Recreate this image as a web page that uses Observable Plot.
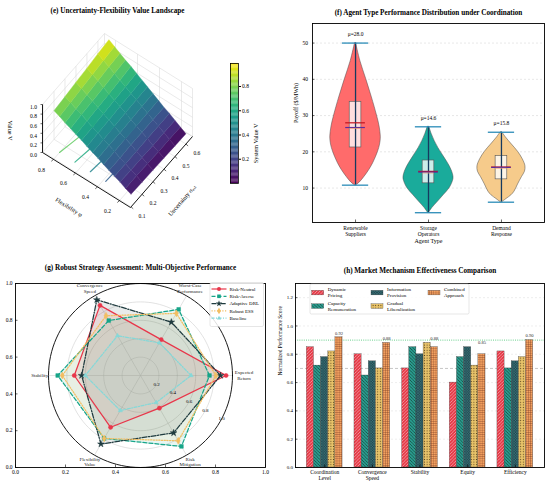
<!DOCTYPE html>
<html><head><meta charset="utf-8">
<script src="https://cdn.jsdelivr.net/npm/d3@7"></script>
<script src="https://cdn.jsdelivr.net/npm/@observablehq/plot@0.6"></script>
<style>
html,body{margin:0;padding:0;background:#fff;}
#fig{position:relative;width:550px;height:487px;overflow:hidden;background:#fff;}
#fig svg{position:absolute;}
</style></head><body>
<div id="fig">
<svg width="0" height="0" style="position:absolute;left:0;top:0">
<defs>
<pattern id="hatch0" patternUnits="userSpaceOnUse" width="3.2" height="3.2">
  <rect width="3.2" height="3.2" fill="#E63946"/>
  <path d="M-0.8,0.8 L0.8,-0.8 M0,3.2 L3.2,0 M2.4,4 L4,2.4" stroke="#f5b5bb" stroke-width="0.7"/>
</pattern>
<pattern id="hatch1" patternUnits="userSpaceOnUse" width="3.2" height="3.2">
  <rect width="3.2" height="3.2" fill="#2A9D8F"/>
  <path d="M-0.8,2.4 L0.8,4 M0,0 L3.2,3.2 M2.4,-0.8 L4,0.8" stroke="#133a35" stroke-width="0.7"/>
</pattern>
<pattern id="hatch2" patternUnits="userSpaceOnUse" width="2.6" height="2.6">
  <rect width="2.6" height="2.6" fill="#264653"/>
  <path d="M0,0 L2.6,2.6 M2.6,0 L0,2.6" stroke="#3f8f86" stroke-width="0.45"/>
</pattern>
<pattern id="hatch3" patternUnits="userSpaceOnUse" width="2.6" height="2.6">
  <rect width="2.6" height="2.6" fill="#E9C46A"/>
  <circle cx="1.3" cy="1.3" r="0.55" fill="#5a4420"/>
</pattern>
<pattern id="hatch4" patternUnits="userSpaceOnUse" width="2.2" height="2.2">
  <rect width="2.2" height="2.2" fill="#F4A261"/>
  <path d="M0,0 H2.2 M0,0 V2.2" stroke="#6b2d1a" stroke-width="0.55"/>
</pattern>
</defs></svg>
</div>
<script>
const SERIF = '"Liberation Serif","DejaVu Serif",serif';

// ================= (e) data =================
const titleE = "(e) Uncertainty-Flexibility Value Landscape";
const flexVals = [0.15,0.20,0.25,0.30,0.35,0.40,0.45,0.50,0.55,0.60,0.65,0.70,0.75,0.80,0.85];
const uncVals = [0.15,0.25,0.35,0.45,0.55,0.65];
const valueGrid = [
 [0.06,0.05,0.04,0.03,0.02,0.01],
 [0.11,0.11,0.10,0.09,0.09,0.08],
 [0.17,0.16,0.16,0.15,0.15,0.15],
 [0.22,0.22,0.22,0.22,0.22,0.22],
 [0.27,0.27,0.28,0.28,0.28,0.28],
 [0.32,0.33,0.34,0.34,0.35,0.35],
 [0.38,0.39,0.39,0.40,0.41,0.42],
 [0.43,0.44,0.45,0.47,0.48,0.49],
 [0.48,0.50,0.51,0.53,0.54,0.56],
 [0.54,0.55,0.57,0.59,0.61,0.63],
 [0.59,0.61,0.63,0.65,0.67,0.70],
 [0.64,0.67,0.69,0.71,0.74,0.76],
 [0.69,0.72,0.75,0.78,0.81,0.83],
 [0.75,0.78,0.81,0.84,0.87,0.90],
 [0.80,0.83,0.87,0.90,0.94,0.97]
];
const contourLevels = [0.3,0.45,0.6,0.75,0.9];
const flexTicks = [0.2,0.4,0.6,0.8];
const uncTicks = [0.1,0.2,0.3,0.4,0.5,0.6];
const valueTicks = [0.0,0.2,0.4,0.6,0.8,1.0];
const colorbarTicks = [0.2,0.4,0.6,0.8];
const flexLim = [0.1,0.9], uncLim = [0.095,0.66], valLim = [0,1];
const colorDomain = [0,0.99];

// ================= (f) data =================
const titleF = "(f) Agent Type Performance Distribution under Coordination";
const agentNames = ["Renewable\nSuppliers","Storage\nOperators","Demand\nResponse"];
const agentColors = ["#FF6B6B","#1AAB9B","#F6CB8B"];
const agentMean = [28.0,14.6,15.8];
const agentMedian = [26.7,14.4,15.7];
const agentQ1 = [21.2,11.3,12.4];
const agentQ3 = [33.8,17.6,18.8];
const agentMin = [10.8,3.2,6.1];
const agentMax = [50.0,26.9,25.4];
const renewableProfile = [[10.8,0.03],[11.5,0.16],[13,0.34],[15,0.54],[17,0.70],[20,0.88],[22,0.96],[24,0.99],[27,0.94],[30,0.84],[35,0.64],[40,0.42],[45,0.19],[50,0.02]];
const storageProfile = [[3.2,0.02],[4.5,0.15],[6,0.34],[8,0.59],[10,0.83],[12,0.96],[13,0.98],[15,0.90],[17,0.75],[19,0.57],[21,0.39],[23,0.24],[25,0.12],[26.9,0.03]];
const demandProfile = [[6.1,0.03],[7,0.20],[8,0.39],[9,0.51],[11,0.65],[13,0.80],[14.5,0.92],[16,0.94],[18,0.83],[20,0.65],[22,0.41],[24,0.17],[25.4,0.03]];
const payoffTicks = [10,20,30,40,50];

// ================= (g) data =================
const titleG = "(g) Robust Strategy Assessment: Multi-Objective Performance";
const radarAxes = ["Expected\nReturn","Worst-Case\nPerformance","Convergence\nSpeed","Stability","Flexibility\nValue","Risk\nMitigation"];
const strategyNames = ["Risk-Neutral","Risk-Averse","Adaptive DRL","Robust ESS","Baseline"];
const riskNeutral = [0.93,0.45,0.88,0.72,0.65,0.41];
const riskAverse  = [0.75,0.83,0.69,0.90,0.79,0.89];
const adaptiveDRL = [0.87,0.67,0.95,0.64,0.86,0.72];
const robustESS   = [0.82,0.78,0.75,0.85,0.79,0.82];
const baseline    = [0.55,0.41,0.50,0.60,0.44,0.34];
const radialTicks = [0.2,0.4,0.6,0.8,1.0];
const frameTicks = [0,0.2,0.4,0.6,0.8,1.0];

// ================= (h) data =================
const titleH = "(h) Market Mechanism Effectiveness Comparison";
const criteria = ["Coordination\nLevel","Convergence\nSpeed","Stability","Equity","Efficiency"];
const mechanisms = ["Dynamic\nPricing","Capacity\nRemuneration","Information\nProvision","Gradual\nLiberalization","Combined\nApproach"];
const dynamicPricing        = [0.85,0.80,0.70,0.60,0.82];
const capacityRemuneration  = [0.72,0.65,0.85,0.78,0.70];
const informationProvision  = [0.78,0.75,0.80,0.85,0.75];
const gradualLiberalization = [0.82,0.70,0.88,0.72,0.78];
const combinedApproach      = [0.92,0.88,0.85,0.80,0.90];
const scoreTicks = [0,0.2,0.4,0.6,0.8,1.0,1.2];
const targetLevel = 0.9, referenceLevel = 0.7;

// ================= helpers =================
const fig = document.getElementById("fig");
function place(el, left, top){ el.style.position="absolute"; el.style.left=left+"px"; el.style.top=top+"px"; fig.appendChild(el); }
const baseStyle = {fontFamily: SERIF, fontSize: "5.5px", background: "transparent", overflow: "visible"};
function inTicks(xDom, yDom, fw, fh, xt, yt, len=2.5){
  const dx = len*(xDom[1]-xDom[0])/fw, dy = len*(yDom[1]-yDom[0])/fh;
  return [
    Plot.ruleY(yt, {y:d=>d, x1:xDom[0], x2:xDom[0]+dx, stroke:"#000", strokeWidth:0.6}),
    Plot.ruleX(xt, {x:d=>d, y1:yDom[0], y2:yDom[0]+dy, stroke:"#000", strokeWidth:0.6})
  ];
}

// ================= (e) surface =================
function projE(f,u,v){
  const a=(f-flexLim[0])/(flexLim[1]-flexLim[0]);
  const b=(u-uncLim[0])/(uncLim[1]-uncLim[0]);
  const c=(v-valLim[0])/(valLim[1]-valLim[0]);
  return [130 - 88*a + 62*b, 207 - 55*a - 71*b - 48*c];
}
const [f0,f1]=flexLim, [u0,u1]=uncLim, [z0,z1]=valLim;
function seg(p,q){return {x1:p[0],y1:p[1],x2:q[0],y2:q[1]};}
const eGrid=[];
valueTicks.forEach(z=>{ eGrid.push(seg(projE(f1,u0,z),projE(f1,u1,z))); eGrid.push(seg(projE(f0,u1,z),projE(f1,u1,z))); });
[...uncTicks,u1].forEach(u=>{ eGrid.push(seg(projE(f1,u,z0),projE(f1,u,z1))); eGrid.push(seg(projE(f0,u,z0),projE(f1,u,z0))); });
[f0,...flexTicks].forEach(f=>{ eGrid.push(seg(projE(f,u1,z0),projE(f,u1,z1))); eGrid.push(seg(projE(f,u0,z0),projE(f,u1,z0))); });

const cells=[];
let cid=0;
for(let i=0;i<flexVals.length-1;i++){
  for(let j=0;j<uncVals.length-1;j++){
    const cs=[[i,j],[i+1,j],[i+1,j+1],[i,j+1],[i,j]];
    const v=(valueGrid[i][j]+valueGrid[i+1][j]+valueGrid[i+1][j+1]+valueGrid[i][j+1])/4;
    cs.forEach(([ii,jj])=>{const p=projE(flexVals[ii],uncVals[jj],valueGrid[ii][jj]); cells.push({id:cid,x:p[0],y:p[1],v});});
    cid++;
  }
}
const contourRows=[];
contourLevels.forEach(L=>{
  uncVals.forEach((u,j)=>{
    for(let i=0;i<flexVals.length-1;i++){
      const a=valueGrid[i][j], b=valueGrid[i+1][j];
      if((a-L)*(b-L)<=0 && a!==b){
        const t=(L-a)/(b-a); const f=flexVals[i]+t*(flexVals[i+1]-flexVals[i]);
        const p=projE(f,u,z0); contourRows.push({L,x:p[0],y:p[1]}); break;
      }
    }
  });
});
const P = (f,u,v)=>projE(f,u,v);
const ePlot = Plot.plot({
  width:230, height:245, margin:0, style: baseStyle,
  x:{domain:[0,230], axis:null}, y:{domain:[245,0], axis:null},
  color:{type:"linear", scheme:"viridis", domain:colorDomain},
  marks:[
    Plot.link(eGrid,{x1:"x1",y1:"y1",x2:"x2",y2:"y2",stroke:"#d9d9d9",strokeWidth:0.55}),
    Plot.line(contourRows,{x:"x",y:"y",z:"L",stroke:"L",strokeWidth:1.2,strokeOpacity:0.85}),
    Plot.line(cells,{x:"x",y:"y",z:"id",fill:"v",stroke:"v",strokeWidth:0.4}),
    Plot.link([0],{x1:()=>P(f0,u0,z0)[0],y1:()=>P(f0,u0,z0)[1],x2:()=>P(f1,u0,z0)[0],y2:()=>P(f1,u0,z0)[1],stroke:"#000",strokeWidth:0.9}),
    Plot.link([0],{x1:()=>P(f0,u0,z0)[0],y1:()=>P(f0,u0,z0)[1],x2:()=>P(f0,u1,z0)[0],y2:()=>P(f0,u1,z0)[1],stroke:"#000",strokeWidth:0.9}),
    Plot.link([0],{x1:()=>P(f1,u0,z0)[0],y1:()=>P(f1,u0,z0)[1],x2:()=>P(f1,u0,z1)[0],y2:()=>P(f1,u0,z1)[1],stroke:"#000",strokeWidth:0.9}),
    Plot.link(flexTicks,{x1:f=>P(f,u0,z0)[0],y1:f=>P(f,u0,z0)[1],x2:f=>P(f,u0,z0)[0]-2.2,y2:f=>P(f,u0,z0)[1]+1.9,stroke:"#000",strokeWidth:0.6}),
    Plot.link(uncTicks,{x1:u=>P(f0,u,z0)[0],y1:u=>P(f0,u,z0)[1],x2:u=>P(f0,u,z0)[0]+2.2,y2:u=>P(f0,u,z0)[1]+1.9,stroke:"#000",strokeWidth:0.6}),
    Plot.link(valueTicks,{x1:z=>P(f1,u0,z)[0],y1:z=>P(f1,u0,z)[1],x2:z=>P(f1,u0,z)[0]-2,y2:z=>P(f1,u0,z)[1],stroke:"#000",strokeWidth:0.6}),
    Plot.text(flexTicks,{x:f=>P(f,u0,z0)[0],y:f=>P(f,u0,z0)[1],text:f=>f.toFixed(1),dx:-12,dy:10.5,fontSize:5.5}),
    Plot.text(uncTicks,{x:u=>P(f0,u,z0)[0],y:u=>P(f0,u,z0)[1],text:u=>u.toFixed(1),dx:11,dy:9.3,fontSize:5.5}),
    Plot.text(valueTicks,{x:z=>P(f1,u0,z)[0],y:z=>P(f1,u0,z)[1],text:z=>z.toFixed(1),dx:-9,dy:2.5,fontSize:5.5}),
    Plot.text(["Flexibility φ"],{x:()=>P((f0+f1)/2,u0,z0)[0],y:()=>P((f0+f1)/2,u0,z0)[1],text:d=>d,dx:-17.7,dy:27.2,rotate:32,fontSize:6.2}),
    Plot.text(["Uncertainty σₑₓₜ"],{x:()=>P(f0,(u0+u1)/2,z0)[0],y:()=>P(f0,(u0+u1)/2,z0)[1],text:d=>d,dx:20.7,dy:28.5,rotate:-49,fontSize:6.2}),
    Plot.text(["Value V"],{x:()=>P(f1,u0,(z0+z1)/2)[0],y:()=>P(f1,u0,(z0+z1)/2)[1],text:d=>d,dx:-33,dy:2,rotate:90,fontSize:6.2}),
    Plot.text([titleE],{frameAnchor:"top",text:d=>d,dy:7.3,dx:2,fontWeight:"bold",fontSize:7.2})
  ]
});
place(ePlot,0,0);

const cbSteps = d3.range(0,100).map(i=>i/100*colorDomain[1]);
const cbPlot = Plot.plot({
  width:60, height:245, marginLeft:15, marginRight:37, marginTop:63, marginBottom:62, style: baseStyle,
  x:{domain:[0,1],axis:null}, y:{domain:colorDomain,axis:null},
  color:{type:"linear", scheme:"viridis", domain:colorDomain},
  marks:[
    Plot.rect(cbSteps,{x1:0,x2:1,y1:d=>d,y2:d=>d+0.0104,fill:d=>d+0.005}),
    Plot.frame({stroke:"#000",strokeWidth:0.8}),
    Plot.axisY({anchor:"right",ticks:colorbarTicks,tickFormat:".1f",tickSize:2,tickPadding:1.5,fontSize:5.5,label:null}),
    Plot.text(["System Value V"],{frameAnchor:"right",text:d=>d,dx:18,rotate:-90,fontSize:6.2})
  ]
});
place(cbPlot,215,0);

// ================= (f) violins =================
const fX=[0.41,3.59], fY=[0.5,55.4];
const agentIdx=[0,1,2];
const halfW=0.35;
const fPlot = Plot.plot({
  width:275, height:245, marginLeft:37, marginRight:6, marginTop:23, marginBottom:23, style: baseStyle,
  x:{domain:fX,axis:null}, y:{domain:fY,axis:null},
  marks:[
    Plot.ruleY(payoffTicks,{y:d=>d,stroke:"#cfcfcf",strokeWidth:0.5,strokeDasharray:"2,2"}),
    ...[renewableProfile,storageProfile,demandProfile].map((prof,i)=>Plot.areaX(prof,{y:d=>d[0],x1:d=>i+1-d[1]*halfW,x2:d=>i+1+d[1]*halfW,fill:agentColors[i],stroke:"#4a4a4a",strokeWidth:0.5,curve:"catmull-rom"})),
    Plot.rect(agentIdx,{x1:i=>i+1-0.08,x2:i=>i+1+0.08,y1:i=>agentQ1[i],y2:i=>agentQ3[i],fill:"#ffffff",fillOpacity:0.78,stroke:"#555",strokeWidth:0.6}),
    Plot.ruleX(agentIdx,{x:i=>i+1,y1:i=>agentMin[i],y2:i=>agentMax[i],stroke:"#163a5f",strokeWidth:1.3}),
    Plot.ruleY(agentIdx.flatMap(i=>[{i,v:agentMin[i]},{i,v:agentMax[i]}]),{y:"v",x1:d=>d.i+1-0.18,x2:d=>d.i+1+0.18,stroke:"#2b8cb8",strokeWidth:1.3}),
    Plot.ruleY(agentIdx,{y:i=>agentMean[i],x1:i=>i+1-0.135,x2:i=>i+1+0.135,stroke:"#c0141e",strokeWidth:1.2}),
    Plot.ruleY(agentIdx,{y:i=>agentMedian[i],x1:i=>i+1-0.135,x2:i=>i+1+0.135,stroke:"#5a2d9c",strokeWidth:1.2}),
    Plot.ruleY(agentIdx,{y:i=>agentMedian[i],x1:i=>i+1-0.075,x2:i=>i+1+0.075,dy:0.9,stroke:"#f39c6b",strokeWidth:0.7}),
    Plot.text(agentIdx,{x:i=>i+1,y:i=>agentMax[i]+2.5,text:i=>`μ=${agentMean[i].toFixed(1)}`,fontSize:5.5}),
    ...inTicks(fX,fY,232,199,[1,2,3],payoffTicks),
    Plot.frame({stroke:"#000",strokeWidth:0.9}),
    Plot.axisY({ticks:payoffTicks,tickSize:0,tickPadding:4.5,fontSize:5.5,label:null}),
    Plot.axisX({ticks:[1,2,3],tickFormat:i=>agentNames[i-1],tickSize:0,tickPadding:4,fontSize:5.5,label:null}),
    Plot.text(["Payoff ($/MWh)"],{frameAnchor:"left",text:d=>d,dx:-16,rotate:-90,fontSize:6}),
    Plot.text(["Agent Type"],{frameAnchor:"bottom",text:d=>d,dy:20.7,fontSize:6}),
    Plot.text([titleF],{frameAnchor:"top",text:d=>d,dy:-14,fontWeight:"bold",fontSize:7.2})
  ]
});
place(fPlot,275,0);

// ================= (g) radar =================
const RX=92/250, RY=92/184;
const polA=(r,t)=>[0.5+r*RX*Math.cos(t),0.5+r*RY*Math.sin(t)];
const pol=(r,k)=>polA(r,k*Math.PI/3);
const strategies=[riskNeutral,riskAverse,adaptiveDRL,robustESS,baseline];
const strategyColors=["#E8364A","#17A589","#1F3B3F","#F2BE62","#85D8D8"];
const strategyDash=[null,"4,2","5,1.5,1.2,1.5","1.2,1.5","3,1.5,1,1.5"];
const strategySymbols=["circle","square","star","diamond","triangle"];
const ring=r=>d3.range(0,361,3).map(deg=>polA(r,deg*Math.PI/180));
const axisIdx=radarAxes.map((_,k)=>k);
const closed=vals=>[...vals.map((r,k)=>pol(r,k)),pol(vals[0],0)];
const gPlot = Plot.plot({
  width:275, height:242, marginLeft:15, marginRight:10, marginTop:38, marginBottom:20, style: baseStyle,
  x:{domain:[0,1],axis:null}, y:{domain:[0,1],axis:null},
  marks:[
    ...[0.2,0.4,0.6,0.8].map(r=>Plot.line(ring(r),{x:d=>d[0],y:d=>d[1],stroke:"#c4c4c4",strokeWidth:0.5})),
    Plot.link(axisIdx,{x1:0.5,y1:0.5,x2:k=>pol(1,k)[0],y2:k=>pol(1,k)[1],stroke:"#c4c4c4",strokeWidth:0.5}),
    ...strategies.map((s,i)=>Plot.line(closed(s),{x:d=>d[0],y:d=>d[1],fill:strategyColors[i],fillOpacity:0.1,stroke:"none"})),
    ...strategies.map((s,i)=>Plot.line(closed(s),{x:d=>d[0],y:d=>d[1],stroke:strategyColors[i],strokeWidth:1.25,strokeDasharray:strategyDash[i]})),
    ...strategies.map((s,i)=>Plot.dot(s.map((r,k)=>pol(r,k)),{x:d=>d[0],y:d=>d[1],symbol:strategySymbols[i],fill:strategyColors[i],stroke:strategyColors[i],strokeWidth:0.5,r:i===4?1.6:2.1})),
    Plot.line(ring(1),{x:d=>d[0],y:d=>d[1],stroke:"#000",strokeWidth:0.9}),
    Plot.text(radialTicks,{x:r=>polA(r,-28*Math.PI/180)[0],y:r=>polA(r,-28*Math.PI/180)[1],text:r=>r.toFixed(1),fontSize:5}),
    ...inTicks([0,1],[0,1],250,184,frameTicks,frameTicks),
    Plot.frame({stroke:"#000",strokeWidth:0.9}),
    Plot.axisX({ticks:frameTicks,tickFormat:".1f",tickSize:0,tickPadding:3,fontSize:5.5,label:null}),
    Plot.axisY({ticks:frameTicks,tickFormat:".1f",tickSize:0,tickPadding:3,fontSize:5.5,label:null}),
    Plot.text([titleG],{frameAnchor:"top",text:d=>d,dy:-19,fontWeight:"bold",fontSize:7.2})
  ]
});
place(gPlot,0,245);

// ================= (h) bars =================
const hX=[-0.6125,4.6125], hY=[0,1.3];
const mechanismSeries=[dynamicPricing,capacityRemuneration,informationProvision,gradualLiberalization,combinedApproach];
const barW=0.15;
const critIdx=criteria.map((_,g)=>g);
const groupMax=critIdx.map(g=>d3.max(mechanismSeries,s=>s[g]));
const hPlot = Plot.plot({
  width:275, height:242, marginLeft:20, marginRight:6, marginTop:38, marginBottom:20, style: baseStyle,
  x:{domain:hX,axis:null}, y:{domain:hY,axis:null},
  marks:[
    Plot.ruleY(scoreTicks.slice(1),{y:d=>d,stroke:"#dddddd",strokeWidth:0.5,strokeDasharray:"2,2"}),
    Plot.ruleY([referenceLevel],{y:d=>d,stroke:"#a0a0a0",strokeWidth:0.6,strokeDasharray:"3,2"}),
    Plot.ruleY([targetLevel],{y:d=>d,stroke:"#58c97f",strokeWidth:0.9,strokeDasharray:"1,1.2"}),
    ...mechanismSeries.map((s,j)=>Plot.rect(critIdx,{x1:g=>g+(j-2)*barW-barW/2,x2:g=>g+(j-2)*barW+barW/2,y1:0,y2:g=>s[g],fill:`url(#hatch${j})`,stroke:"#333",strokeWidth:0.3})),
    Plot.text(critIdx,{x:g=>g+2*barW,y:g=>groupMax[g]+0.03,text:g=>groupMax[g].toFixed(2),fontSize:4.6,fill:"#333"}),
    ...inTicks(hX,hY,249,184,critIdx,scoreTicks),
    Plot.frame({stroke:"#000",strokeWidth:0.9}),
    Plot.axisY({ticks:scoreTicks,tickFormat:".1f",tickSize:0,tickPadding:2.5,fontSize:5,label:null}),
    Plot.axisX({ticks:critIdx,tickFormat:g=>criteria[g],tickSize:0,tickPadding:3,fontSize:5.5,label:null}),
    Plot.text(["Normalized Performance Score"],{frameAnchor:"left",text:d=>d,dx:-15,rotate:-90,fontSize:5.5}),
    Plot.text([titleH],{frameAnchor:"top",text:d=>d,dy:-16,fontWeight:"bold",fontSize:7.2})
  ]
});
place(hPlot,275,245);

// ================= overlay: radar axis labels and legends =================
const ov = d3.select("#fig").append("svg").attr("width",550).attr("height",487)
  .style("left","0px").style("top","0px").style("position","absolute").style("pointer-events","none")
  .attr("font-family",SERIF);
const gx = gPlot.scale("x"), gy = gPlot.scale("y");
const gOffX = 0, gOffY = 245;
axisIdx.forEach(k=>{
  const [vx,vy]=pol(k===0?1.13:1.09,k);
  const px=gOffX+gx.apply(vx), py=gOffY+gy.apply(vy);
  const lines=radarAxes[k].split("\n");
  const t=ov.append("text").attr("font-size",5).attr("text-anchor","middle").attr("fill","#222");
  lines.forEach((s,i)=>t.append("tspan").attr("x",px).attr("y",py+(i-(lines.length-1)/2)*5.6).attr("dy","0.35em").text(s));
});
const lg = ov.append("g");
lg.append("rect").attr("x",210).attr("y",282.5).attr("width",53.5).attr("height",44).attr("rx",1.5)
  .attr("fill","#fff").attr("fill-opacity",0.85).attr("stroke","#cccccc").attr("stroke-width",0.5);
const legendSymbols=[d3.symbolCircle,d3.symbolSquare,d3.symbolStar,d3.symbolDiamond,d3.symbolTriangle];
strategyNames.forEach((name,k)=>{
  const y=289+k*7.3;
  lg.append("line").attr("x1",211.5).attr("x2",226.5).attr("y1",y).attr("y2",y)
    .attr("stroke",strategyColors[k]).attr("stroke-width",1.2).attr("stroke-dasharray",strategyDash[k]);
  lg.append("path").attr("d",d3.symbol(legendSymbols[k],k===4?8:13)()).attr("transform",`translate(219,${y})`).attr("fill",strategyColors[k]);
  lg.append("text").attr("x",229.5).attr("y",y).attr("dy","0.35em").attr("font-size",5).text(name);
});
const hl = ov.append("g");
hl.append("rect").attr("x",310).attr("y",284).attr("width",159).attr("height",30).attr("rx",1.5)
  .attr("fill","#fff").attr("fill-opacity",0.85).attr("stroke","#cccccc").attr("stroke-width",0.5);
const legendCols=[311.7,371,428], legendRows=[292.6,306.1];
mechanisms.forEach((name,k)=>{
  const cx=legendCols[Math.floor(k/2)], cy=legendRows[k%2];
  hl.append("rect").attr("x",cx).attr("y",cy-2.3).attr("width",12).attr("height",4.6)
    .attr("fill",`url(#hatch${k})`).attr("stroke","#333").attr("stroke-width",0.3);
  const t=hl.append("text").attr("font-size",5);
  name.split("\n").forEach((s,i)=>t.append("tspan").attr("x",cx+16).attr("y",cy+(i===0?-2.9:2.9)).attr("dy","0.35em").text(s));
});
</script>
</body></html>
